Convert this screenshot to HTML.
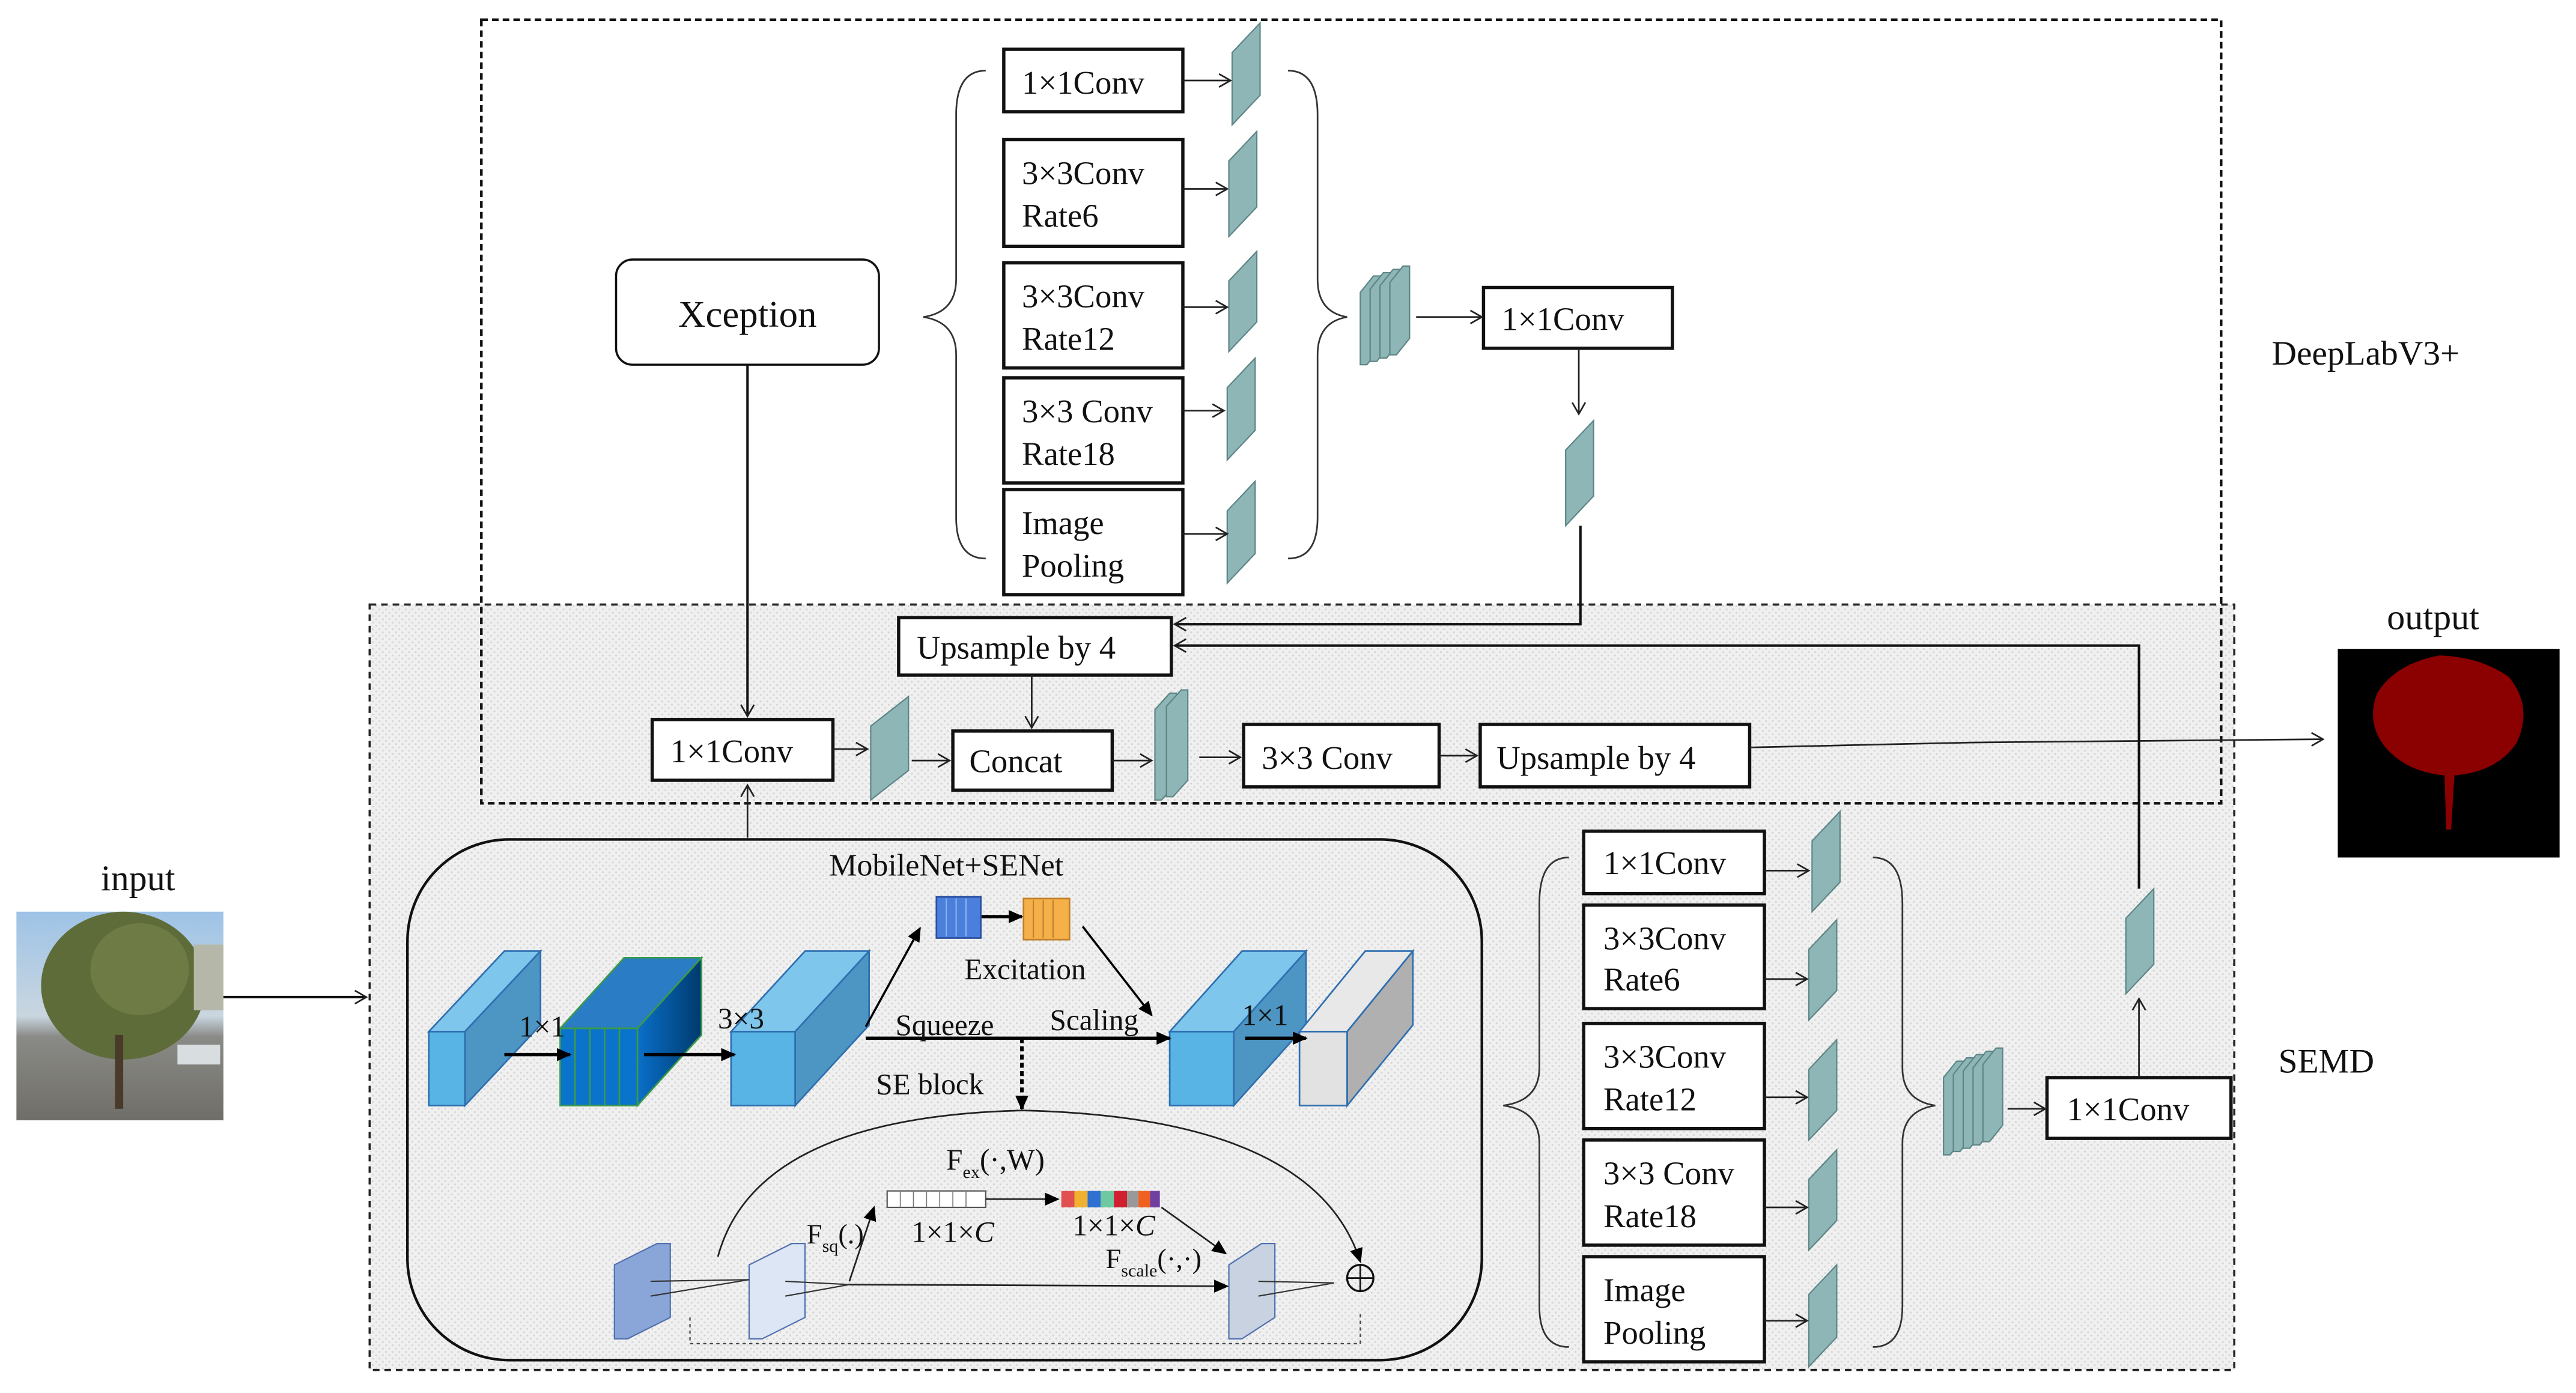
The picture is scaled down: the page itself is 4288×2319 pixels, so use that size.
<!DOCTYPE html>
<html><head><meta charset="utf-8"><style>
html,body{margin:0;padding:0;background:#fff;}
svg{display:block;}
svg text{font-family:"Liberation Serif","DejaVu Serif",serif;fill:#111;}
</style></head><body>
<svg width="4288" height="2319" viewBox="0 0 1568 848" preserveAspectRatio="none" xmlns="http://www.w3.org/2000/svg" font-family="Liberation Serif, DejaVu Serif, serif">
<defs>
<marker id="a" markerWidth="10" markerHeight="10" refX="8" refY="5" orient="auto" markerUnits="userSpaceOnUse"><path d="M1,1 L8,5 L1,9" fill="none" stroke="#222" stroke-width="1"/></marker>
<marker id="b" markerWidth="10" markerHeight="10" refX="8" refY="5" orient="auto" markerUnits="userSpaceOnUse"><path d="M0,1 L9,5 L0,9 Z" fill="#000"/></marker>
<pattern id="dots" width="4" height="4" patternUnits="userSpaceOnUse"><rect width="4" height="4" fill="#f0f0f0"/><circle cx="1" cy="1" r="0.6" fill="#d6d6d6"/><circle cx="3" cy="3" r="0.6" fill="#d6d6d6"/></pattern>
<linearGradient id="dk" x1="0" y1="0" x2="1" y2="0"><stop offset="0" stop-color="#0a6fc8"/><stop offset="1" stop-color="#003a6e"/></linearGradient>
<linearGradient id="sky" x1="0" y1="0" x2="0" y2="1"><stop offset="0" stop-color="#9ec3e6"/><stop offset="0.5" stop-color="#c9d6e0"/><stop offset="0.6" stop-color="#8a8a86"/><stop offset="1" stop-color="#6f6e68"/></linearGradient>
</defs>

<rect x="225" y="368" width="1135" height="466" fill="url(#dots)" stroke="#222" stroke-width="1.3" stroke-dasharray="4,3"/>
<rect x="293" y="12" width="1059" height="477" fill="none" stroke="#111" stroke-width="1.6" stroke-dasharray="4,2.5"/>

<text x="1440" y="222" font-size="21" text-anchor="middle">DeepLabV3+</text>
<text x="1416" y="653" font-size="21" text-anchor="middle">SEMD</text>

<rect x="375" y="158" width="160" height="64" rx="10" fill="#fff" stroke="#111" stroke-width="1.3"/>
<text x="455" y="199" font-size="23" text-anchor="middle">Xception</text>

<g stroke="#111" stroke-width="2" fill="#fff">
<rect x="611" y="30" width="109" height="38"/>
<rect x="611" y="85" width="109" height="65"/>
<rect x="611" y="160" width="109" height="64"/>
<rect x="611" y="230" width="109" height="64"/>
<rect x="611" y="298" width="109" height="64"/>
<rect x="903" y="175" width="115" height="37"/>
<rect x="547" y="376" width="166" height="35"/>
<rect x="397" y="438" width="110" height="37"/>
<rect x="580" y="445" width="97" height="36"/>
<rect x="757" y="441" width="119" height="38"/>
<rect x="901" y="441" width="164" height="38"/>
<rect x="964" y="506" width="110" height="38"/>
<rect x="964" y="551" width="110" height="63"/>
<rect x="964" y="623" width="110" height="64"/>
<rect x="964" y="694" width="110" height="64"/>
<rect x="964" y="765" width="110" height="64"/>
<rect x="1246" y="656" width="112" height="37"/>
</g>
<g font-size="20">
<text x="622" y="57">1×1Conv</text>
<text x="622" y="112">3×3Conv</text><text x="622" y="138">Rate6</text>
<text x="622" y="187">3×3Conv</text><text x="622" y="213">Rate12</text>
<text x="622" y="257">3×3 Conv</text><text x="622" y="283">Rate18</text>
<text x="622" y="325">Image</text><text x="622" y="351">Pooling</text>
<text x="914" y="201">1×1Conv</text>
<text x="558" y="401">Upsample by 4</text>
<text x="408" y="464">1×1Conv</text>
<text x="590" y="470">Concat</text>
<text x="768" y="468">3×3 Conv</text>
<text x="911" y="468">Upsample by 4</text>
<text x="976" y="532">1×1Conv</text>
<text x="976" y="578">3×3Conv</text><text x="976" y="603">Rate6</text>
<text x="976" y="650">3×3Conv</text><text x="976" y="676">Rate12</text>
<text x="976" y="721">3×3 Conv</text><text x="976" y="747">Rate18</text>
<text x="976" y="792">Image</text><text x="976" y="818">Pooling</text>
<text x="1258" y="682">1×1Conv</text>
</g>

<g fill="#8fb6b6" stroke="#5d8585" stroke-width="0.8">
<polygon points="750,32 767,14 767,58 750,76"/>
<polygon points="748,98 765,80 765,126 748,144"/>
<polygon points="748,171 765,153 765,196 748,214"/>
<polygon points="747,236 764,218 764,262 747,280"/>
<polygon points="747,311 764,293 764,337 747,355"/>
<polygon points="953,274 970,256 970,302 953,320"/>
<polygon points="530,442 553,424 553,469 530,487"/>
<polygon points="1103,512 1120,494 1120,537 1103,555"/>
<polygon points="1101,578 1118,560 1118,603 1101,621"/>
<polygon points="1101,651 1118,633 1118,676 1101,694"/>
<polygon points="1101,718 1118,700 1118,743 1101,761"/>
<polygon points="1101,788 1118,770 1118,814 1101,832"/>
<polygon points="1294,559 1311,541 1311,587 1294,605"/>
<polygon points="828,178 836,168 840,168 840,212 832,222 828,222"/>
<polygon points="834,176 842,166 846,166 846,210 838,220 834,220"/>
<polygon points="840,174 848,164 852,164 852,208 844,218 840,218"/>
<polygon points="846,172 854,162 858,162 858,206 850,216 846,216"/>
<polygon points="703,432 712,422 716,422 716,477 707,487 703,487"/>
<polygon points="710,430 719,420 723,420 723,475 714,485 710,485"/>
<polygon points="1183,656 1191,646 1195,646 1195,693 1187,703 1183,703"/>
<polygon points="1189,654 1197,644 1201,644 1201,691 1193,701 1189,701"/>
<polygon points="1195,652 1203,642 1207,642 1207,689 1199,699 1195,699"/>
<polygon points="1201,650 1209,640 1213,640 1213,687 1205,697 1201,697"/>
<polygon points="1207,648 1215,638 1219,638 1219,685 1211,695 1207,695"/>
</g>

<g fill="none" stroke="#333" stroke-width="1">
<path d="M600,43 Q582,43 582,70 L582,170 Q582,190 562,193 Q582,196 582,216 L582,315 Q582,340 600,340"/>
<path d="M784,43 Q802,43 802,70 L802,170 Q802,190 820,193 Q802,196 802,216 L802,315 Q802,340 784,340"/>
<path d="M955,522 Q937,522 937,550 L937,650 Q937,670 915,673 Q937,676 937,696 L937,795 Q937,820 955,820"/>
<path d="M1140,522 Q1158,522 1158,550 L1158,650 Q1158,670 1178,673 Q1158,676 1158,696 L1158,795 Q1158,820 1140,820"/>
</g>

<g stroke="#222" stroke-width="1" fill="none" marker-end="url(#a)">
<line x1="720" y1="49" x2="749" y2="49"/>
<line x1="720" y1="115" x2="747" y2="115"/>
<line x1="720" y1="187" x2="747" y2="187"/>
<line x1="720" y1="250" x2="745" y2="250"/>
<line x1="720" y1="325" x2="747" y2="325"/>
<line x1="862" y1="193" x2="902" y2="193"/>
<line x1="961" y1="212" x2="961" y2="252"/>
<line x1="628" y1="411" x2="628" y2="443"/>
<line x1="507" y1="456" x2="528" y2="456"/>
<line x1="555" y1="463" x2="578" y2="463"/>
<line x1="677" y1="463" x2="701" y2="463"/>
<line x1="730" y1="461" x2="755" y2="461"/>
<line x1="876" y1="460" x2="899" y2="460"/>
<polyline points="1065,455 1200,452 1414,450"/>
<line x1="1074" y1="530" x2="1101" y2="530"/>
<line x1="1074" y1="596" x2="1100" y2="596"/>
<line x1="1074" y1="668" x2="1100" y2="668"/>
<line x1="1074" y1="735" x2="1100" y2="735"/>
<line x1="1074" y1="804" x2="1100" y2="804"/>
<line x1="1222" y1="675" x2="1245" y2="675"/>
<line x1="1302" y1="656" x2="1302" y2="608"/>
<line x1="455" y1="510" x2="455" y2="478"/>
</g>
<g stroke="#111" stroke-width="1.5" fill="none" marker-end="url(#a)">
<line x1="455" y1="222" x2="455" y2="436"/>
<polyline points="962,320 962,380 715,380"/>
<polyline points="1302,541 1302,393 715,393"/>
<line x1="136" y1="607" x2="223" y2="607"/>
</g>

<text x="1481" y="383" font-size="22" text-anchor="middle">output</text>
<rect x="1423" y="395" width="135" height="127" fill="#000"/>
<path d="M1489,505 L1488,472 Q1465,470 1452,455 Q1440,440 1447,422 Q1458,404 1485,399 Q1510,400 1527,412 Q1542,430 1532,452 Q1520,470 1494,472 L1492,505 Z" fill="#8b0000"/>

<text x="84" y="542" font-size="22" text-anchor="middle">input</text>
<rect x="10" y="555" width="126" height="127" fill="url(#sky)"/>
<ellipse cx="75" cy="600" rx="50" ry="45" fill="#5e6c3a"/>
<ellipse cx="85" cy="590" rx="30" ry="28" fill="#6f7b45"/>
<rect x="70" y="630" width="5" height="45" fill="#4a3a2a"/>
<rect x="108" y="636" width="26" height="12" fill="#d8dde0"/>
<rect x="118" y="575" width="18" height="40" fill="#b5b8a8"/>

<rect x="248" y="511" width="654" height="317" rx="62" fill="none" stroke="#111" stroke-width="1.6"/>
<text x="576" y="533" font-size="19" text-anchor="middle">MobileNet+SENet</text>

<g stroke="#2f6fb0" stroke-width="1">
<polygon points="261,628 307,579 329,579 283,628" fill="#7ec6ec"/>
<polygon points="283,628 329,579 329,624 283,673" fill="#4d96c4"/>
<rect x="261" y="628" width="22" height="45" fill="#57b4e4"/>
<polygon points="341,626 380,583 427,583 388,626" fill="#2a7cc4" stroke="#3a9a4a"/>
<polygon points="388,626 427,583 427,630 388,673" fill="url(#dk)" stroke="#3a9a4a"/>
<rect x="341" y="626" width="47" height="47" fill="#0a74cc" stroke="#3a9a4a"/>
<line x1="350" y1="626" x2="350" y2="673" stroke="#3a9a4a"/>
<line x1="359" y1="626" x2="359" y2="673" stroke="#3a9a4a"/>
<line x1="368" y1="626" x2="368" y2="673" stroke="#3a9a4a"/>
<line x1="377" y1="626" x2="377" y2="673" stroke="#3a9a4a"/>
<polygon points="445,628 490,579 529,579 484,628" fill="#7ec6ec"/>
<polygon points="484,628 529,579 529,624 484,673" fill="#4d96c4"/>
<rect x="445" y="628" width="39" height="45" fill="#57b4e4"/>
<polygon points="712,628 756,579 795,579 751,628" fill="#7ec6ec"/>
<polygon points="751,628 795,579 795,624 751,673" fill="#4d96c4"/>
<rect x="712" y="628" width="39" height="45" fill="#57b4e4"/>
<polygon points="791,628 831,579 860,579 820,628" fill="#e8e8e8"/>
<polygon points="820,628 860,579 860,624 820,673" fill="#b0b0b0"/>
<rect x="791" y="628" width="29" height="45" fill="#e2e2e2"/>
</g>
<g stroke="#000" stroke-width="2" fill="none" marker-end="url(#b)">
<line x1="307" y1="642" x2="347" y2="642"/>
<line x1="392" y1="642" x2="447" y2="642"/>
<line x1="527" y1="632" x2="712" y2="632"/>
<line x1="758" y1="632" x2="795" y2="632"/>
<line x1="597" y1="558" x2="622" y2="558"/>
</g>
<g stroke="#000" stroke-width="1.3" fill="none" marker-end="url(#b)">
<line x1="527" y1="625" x2="560" y2="565"/>
<line x1="659" y1="564" x2="701" y2="618"/>
<line x1="622" y1="632" x2="622" y2="675" stroke-dasharray="3,2" stroke-width="2.2"/>
</g>
<g font-size="18">
<text x="316" y="631">1×1</text>
<text x="437" y="626">3×3</text>
<text x="575" y="630" text-anchor="middle">Squeeze</text>
<text x="666" y="627" text-anchor="middle">Scaling</text>
<text x="624" y="596" text-anchor="middle">Excitation</text>
<text x="566" y="666" text-anchor="middle">SE block</text>
<text x="756" y="624">1×1</text>
</g>
<rect x="570" y="546" width="27" height="25" fill="#4a7fdc" stroke="#2a4fa0"/>
<g stroke="#8ab0f0" stroke-width="0.8"><line x1="576" y1="547" x2="576" y2="570"/><line x1="582" y1="547" x2="582" y2="570"/><line x1="588" y1="547" x2="588" y2="570"/></g>
<rect x="623" y="547" width="28" height="25" fill="#f6b04a" stroke="#c0802a"/>
<g stroke="#c08030" stroke-width="0.8"><line x1="629" y1="548" x2="629" y2="571"/><line x1="635" y1="548" x2="635" y2="571"/><line x1="641" y1="548" x2="641" y2="571"/></g>

<path d="M437,765 Q460,680 622,676 Q800,680 828,768" fill="none" stroke="#222" stroke-width="1" marker-end="url(#b)"/>
<text x="576" y="712" font-size="18">F<tspan font-size="11" dy="5">ex</tspan><tspan dy="-5">(·,W)</tspan></text>
<rect x="540" y="725" width="60" height="10" fill="#fff" stroke="#555" stroke-width="0.8"/>
<g stroke="#777" stroke-width="0.6"><line x1="548" y1="725" x2="548" y2="735"/><line x1="556" y1="725" x2="556" y2="735"/><line x1="564" y1="725" x2="564" y2="735"/><line x1="572" y1="725" x2="572" y2="735"/><line x1="580" y1="725" x2="580" y2="735"/><line x1="588" y1="725" x2="588" y2="735"/></g>
<line x1="600" y1="730" x2="644" y2="730" stroke="#222" stroke-width="1" marker-end="url(#b)"/>
<g>
<rect x="646" y="725" width="8" height="10" fill="#e05050"/><rect x="654" y="725" width="8" height="10" fill="#f0b030"/><rect x="662" y="725" width="8" height="10" fill="#3070d0"/><rect x="670" y="725" width="8" height="10" fill="#70c8a0"/><rect x="678" y="725" width="8" height="10" fill="#d02030"/><rect x="686" y="725" width="7" height="10" fill="#999"/><rect x="693" y="725" width="7" height="10" fill="#f06020"/><rect x="700" y="725" width="6" height="10" fill="#7040a0"/>
</g>
<text x="580" y="756" font-size="18" text-anchor="middle">1×1×<tspan font-style="italic">C</tspan></text>
<text x="678" y="752" font-size="18" text-anchor="middle">1×1×<tspan font-style="italic">C</tspan></text>
<text x="491" y="757" font-size="17">F<tspan font-size="11" dy="5">sq</tspan><tspan dy="-5">(.)</tspan></text>
<text x="673" y="772" font-size="17">F<tspan font-size="11" dy="5">scale</tspan><tspan dy="-5">(·,·)</tspan></text>
<g stroke="#222" stroke-width="1" fill="none" marker-end="url(#b)">
<line x1="517" y1="780" x2="532" y2="735"/>
<line x1="707" y1="735" x2="746" y2="763"/>
<line x1="517" y1="782" x2="747" y2="783"/>
</g>
<g stroke="#5070b0" stroke-width="0.8">
<polygon points="374,770 400,757 408,757 408,802 382,815 374,815" fill="#8aa6d8"/>
<polygon points="456,770 482,757 490,757 490,802 464,815 456,815" fill="#dde6f4"/>
<polygon points="748,770 768,757 776,757 776,802 756,815 748,815" fill="#c8d2e0"/>
</g>
<g stroke="#333" stroke-width="0.8" fill="none">
<polyline points="396,780 456,779 396,789"/><polyline points="478,780 517,782 478,789"/><polyline points="766,780 812,781 766,789"/>
</g>
<circle cx="828" cy="778" r="8" fill="none" stroke="#111" stroke-width="1.2"/>
<line x1="820" y1="778" x2="836" y2="778" stroke="#111"/><line x1="828" y1="770" x2="828" y2="786" stroke="#111"/>
<polyline points="420,802 420,818 828,818 828,800" fill="none" stroke="#444" stroke-width="0.8" stroke-dasharray="2,2"/>
</svg>
</body></html>
